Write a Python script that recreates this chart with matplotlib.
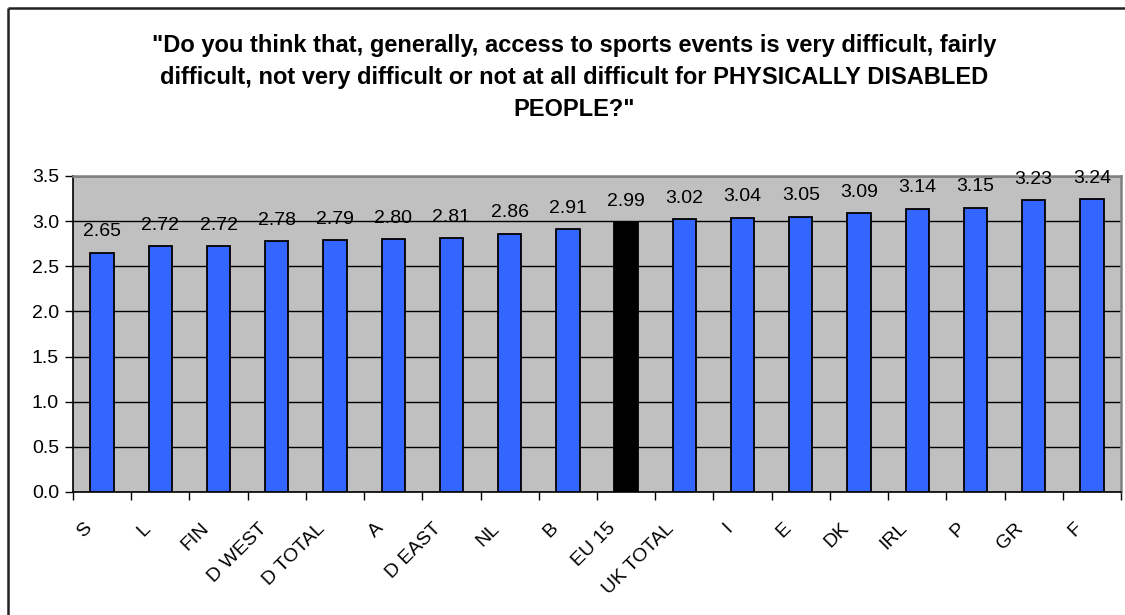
import matplotlib
matplotlib.use("Agg")
import matplotlib.pyplot as plt
from matplotlib.lines import Line2D

plt.rcParams['font.family'] = ['Liberation Sans', 'DejaVu Sans']

categories = ["S", "L", "FIN", "D WEST", "D TOTAL", "A", "D EAST", "NL", "B",
              "EU 15", "UK TOTAL", "I", "E", "DK", "IRL", "P", "GR", "F"]
values = [2.65, 2.72, 2.72, 2.78, 2.79, 2.80, 2.81, 2.86, 2.91,
          2.99, 3.02, 3.04, 3.05, 3.09, 3.14, 3.15, 3.23, 3.24]
highlight = "EU 15"
y_ticks = [0.0, 0.5, 1.0, 1.5, 2.0, 2.5, 3.0, 3.5]
title = ('"Do you think that, generally, access to sports events is very difficult, fairly\n'
         'difficult, not very difficult or not at all difficult for PHYSICALLY DISABLED\n'
         'PEOPLE?"')

W, H = 1125, 615
fig = plt.figure(figsize=(W / 100, H / 100), dpi=100)
fig.patch.set_facecolor("white")

# outer chart frame (left and top edges fall inside the canvas)
fx0, fy0 = 7.5 / W, 1 - 8 / H
fig.add_artist(Line2D([fx0, fx0], [0.0, fy0], transform=fig.transFigure,
                      color="#222222", linewidth=1.8, solid_capstyle="butt"))
fig.add_artist(Line2D([fx0, 1.0], [fy0, fy0], transform=fig.transFigure,
                      color="#222222", linewidth=1.8, solid_capstyle="butt"))

ax = fig.add_axes([73 / W, (H - 492) / H, (1121 - 73) / W, (492 - 176) / H])
ax.set_facecolor("#C0C0C0")

x = list(range(len(categories)))
colors = ["#000000" if c == highlight else "#3366FF" for c in categories]
ax.bar(x, values, width=0.4, color=colors, edgecolor="black",
       linewidth=1.3, zorder=3)

for xi, v in zip(x, values):
    ax.annotate(f"{v:.2f}", (xi, v), xytext=(0, 9), textcoords="offset points",
                ha="center", va="bottom", fontsize=14, color="black")

ax.set_xlim(-0.5, len(categories) - 0.5)
ax.set_ylim(0, 3.5)
ax.set_yticks(y_ticks)
ax.set_yticklabels([f"{t:.1f}" for t in y_ticks], fontsize=14)
ax.yaxis.grid(True, color="black", linewidth=1.0, zorder=1)
ax.set_axisbelow(True)

# category ticks sit on the boundaries between bars; the slanted names
# hang slightly left of each bar
ax.set_xticks([i - 0.5 for i in range(len(categories) + 1)], minor=False)
ax.set_xticklabels([])
ax.set_xticks([i - 0.32 for i in x], minor=True)
ax.set_xticklabels(categories, minor=True, rotation=45, ha="right",
                   va="top", rotation_mode="anchor", fontsize=14)
ax.tick_params(axis="x", which="minor", length=0, pad=20)
ax.tick_params(axis="x", which="major", length=6, width=1, direction="out")
ax.tick_params(axis="y", length=6, width=1, direction="out", pad=4)

ax.spines["left"].set_color("black")
ax.spines["bottom"].set_color("black")
ax.spines["left"].set_linewidth(1.2)
ax.spines["bottom"].set_linewidth(1.2)
ax.spines["top"].set_color("#808080")
ax.spines["right"].set_color("#808080")
ax.spines["top"].set_linewidth(1.8)
ax.spines["right"].set_linewidth(1.8)

fig.text(574 / W, 1 - 34 / H, title, ha="center", va="top", fontsize=17,
         fontweight="bold", linespacing=1.5)

fig.savefig("out.png", dpi=100)
